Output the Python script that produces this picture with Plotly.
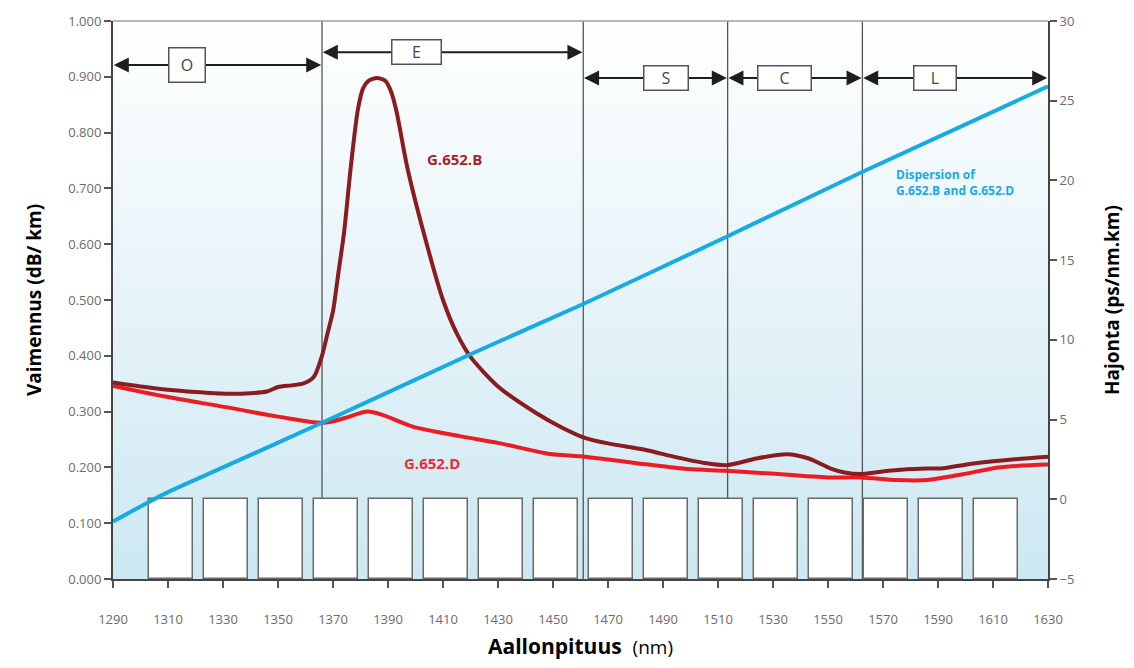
import plotly.graph_objects as go

# ---------------- data ----------------
wl_B = [1290, 1300, 1310, 1320, 1331, 1340, 1346, 1350, 1355, 1359, 1363, 1366, 1368, 1370, 1372,
        1374, 1376.5, 1379, 1381, 1383, 1386, 1389, 1391, 1393, 1397, 1403, 1410, 1415, 1420, 1430,
        1444, 1453, 1461, 1470, 1483, 1495, 1505, 1513, 1524, 1535, 1543, 1551, 1556, 1562, 1572,
        1586, 1591, 1603, 1618, 1630]
att_B = [0.352, 0.345, 0.339, 0.335, 0.332, 0.333, 0.336, 0.344, 0.347, 0.350, 0.362, 0.400, 0.44, 0.48, 0.55,
         0.62, 0.74, 0.84, 0.88, 0.893, 0.898, 0.893, 0.875, 0.84, 0.738, 0.62, 0.50, 0.44, 0.398, 0.345,
         0.297, 0.272, 0.254, 0.243, 0.232, 0.218, 0.208, 0.204, 0.216, 0.2235, 0.216, 0.198, 0.191, 0.188, 0.194,
         0.198, 0.198, 0.207, 0.2145, 0.219]

wl_D = [1290, 1310, 1331, 1350, 1366.5, 1374, 1382.5, 1388, 1399, 1416, 1430, 1449, 1460, 1479, 1499,
        1513, 1532, 1551, 1562, 1575, 1586, 1599, 1612, 1630]
att_D = [0.346, 0.326, 0.308, 0.291, 0.280, 0.288, 0.300, 0.294, 0.273, 0.256, 0.244, 0.224, 0.220, 0.2085, 0.197,
         0.194, 0.188, 0.182, 0.182, 0.1774, 0.1774, 0.1876, 0.200, 0.205]

wl_disp = [1290, 1300, 1310, 1330, 1366, 1420, 1461, 1513.5, 1562, 1630]
disp = [-1.4, -0.45, 0.45, 2.0, 4.8, 9.1, 12.25, 16.5, 20.5, 25.9]

cwdm_channels = [1311, 1331, 1351, 1371, 1391, 1411, 1431, 1451, 1471, 1491, 1511, 1531, 1551, 1571, 1591, 1611]
cwdm_height = [0.143] * len(cwdm_channels)

band_names = ["O", "E", "S", "C", "L"]
band_edges = [1290, 1366, 1461, 1513.5, 1562.5, 1630]
band_arrow_y = [0.921, 0.944, 0.898, 0.898, 0.898]
band_label_x = [1317, 1400.5, 1491, 1534, 1589]
band_label_w = [37, 50, 45, 54, 43]
band_label_h = [35, 25, 25, 25, 25]

x_ticks = list(range(1290, 1631, 20))

# ---------------- figure ----------------
fig = go.Figure()

fig.add_trace(go.Bar(
    x=cwdm_channels, y=cwdm_height, width=16,
    marker=dict(color="white", line=dict(color="#6a6a6a", width=1.5)),
    showlegend=False, hoverinfo="skip"))

fig.add_trace(go.Scatter(
    x=wl_disp, y=disp, yaxis="y2", mode="lines",
    line=dict(color="#17abe3", width=4, shape="spline", smoothing=0.6),
    showlegend=False))

fig.add_trace(go.Scatter(
    x=wl_D, y=att_D, mode="lines",
    line=dict(color="#ec1c24", width=4, shape="spline", smoothing=0.8),
    showlegend=False))

fig.add_trace(go.Scatter(
    x=wl_B, y=att_B, mode="lines",
    line=dict(color="#8a1c20", width=4, shape="spline", smoothing=0.7),
    showlegend=False))

shapes = []
# gradient background strips
n = 60
top = (255, 255, 255)
bot = (205, 232, 242)
for i in range(n):
    t = (i + 0.5) / n
    c = tuple(int(round(top[k] + (bot[k] - top[k]) * t)) for k in range(3))
    shapes.append(dict(type="rect", xref="paper", yref="paper",
                       x0=0, x1=1, y0=1 - (i + 1) / n, y1=1 - i / n + 0.002,
                       fillcolor="rgb(%d,%d,%d)" % c, line=dict(width=0), layer="below"))
# band boundary lines
for e in band_edges[1:-1]:
    shapes.append(dict(type="line", xref="x", yref="paper", x0=e, x1=e, y0=0, y1=1,
                       line=dict(color="#555555", width=1.3), layer="below"))
# top border
shapes.append(dict(type="line", xref="paper", yref="paper", x0=0, x1=1, y0=1, y1=1,
                   line=dict(color="#a0a0a0", width=1.5), layer="above"))

annotations = []
for i, name in enumerate(band_names):
    x0, x1 = band_edges[i], band_edges[i + 1]
    yv = band_arrow_y[i]
    xm = band_label_x[i]
    for xe in (x0 + 0.3, x1 - 0.3):
        annotations.append(dict(x=xe, y=yv, ax=xm, ay=yv, axref="x", ayref="y", xref="x", yref="y",
                                text="", showarrow=True, arrowhead=2, arrowsize=1.5, arrowwidth=2,
                                arrowcolor="#1e1e1e"))
for i, name in enumerate(band_names):
    annotations.append(dict(x=band_label_x[i], y=band_arrow_y[i], xref="x", yref="y", text=name,
                            showarrow=False, bgcolor="white", bordercolor="#555555", borderwidth=1.5,
                            width=band_label_w[i] - 4, height=band_label_h[i] - 4,
                            font=dict(family="Open Sans", size=16, color="#444444")))

annotations.append(dict(x=1414, y=0.753, xref="x", yref="y", text="<b>G.652.B</b>", showarrow=False,
                        font=dict(family="Open Sans", size=15, color="#a3262a")))
annotations.append(dict(x=1406, y=0.208, xref="x", yref="y", text="<b>G.652.D</b>", showarrow=False,
                        font=dict(family="Open Sans", size=15, color="#ec2a3a")))
annotations.append(dict(x=1574, y=0.711, xref="x", yref="y", xanchor="left",
                        text="<b>Dispersion of<br>G.652.B and G.652.D</b>", showarrow=False, align="left",
                        font=dict(family="Open Sans", size=12, color="#1aa8e2")))

tickfont = dict(family="Open Sans", size=13, color="#6b6b6b")

fig.update_layout(
    width=1118, height=652,
    margin=dict(l=105, r=78, t=13, b=81, autoexpand=False),
    paper_bgcolor="white", plot_bgcolor="white",
    bargap=0,
    shapes=shapes, annotations=annotations,
    xaxis=dict(range=[1290, 1630], tickvals=x_ticks, ticks="outside", ticklen=7, tickwidth=1.5,
               tickcolor="#555", showline=True, linecolor="#444", linewidth=2, showgrid=False,
               zeroline=False, tickfont=tickfont, ticklabelstandoff=20, automargin=False,
               title=dict(text="<b>Aallonpituus</b>  <span style='font-size:19px'>(nm)</span>",
                          font=dict(family="Open Sans", size=21, color="black"), standoff=17)),
    yaxis=dict(range=[0, 1], dtick=0.1, tickformat=".3f", ticks="outside", ticklen=7, tickwidth=1.5,
               tickcolor="#555", showline=True, linecolor="#444", linewidth=2, showgrid=False,
               zeroline=False, tickfont=tickfont, automargin=False,
               title=dict(text="<b>Vaimennus (dB/ km)</b>",
                          font=dict(family="Open Sans", size=19, color="black"), standoff=22)),
    yaxis2=dict(range=[-5, 30], dtick=5, overlaying="y", side="right", ticks="outside", ticklen=7,
                tickwidth=1.5, tickcolor="#555", showline=True, linecolor="#444", linewidth=2,
                showgrid=False, zeroline=False, tickfont=tickfont, automargin=False,
                title=dict(text="<b>Hajonta (ps/nm.km)</b>",
                           font=dict(family="Open Sans", size=19, color="black"), standoff=32)),
)

fig.write_html("out.html")
